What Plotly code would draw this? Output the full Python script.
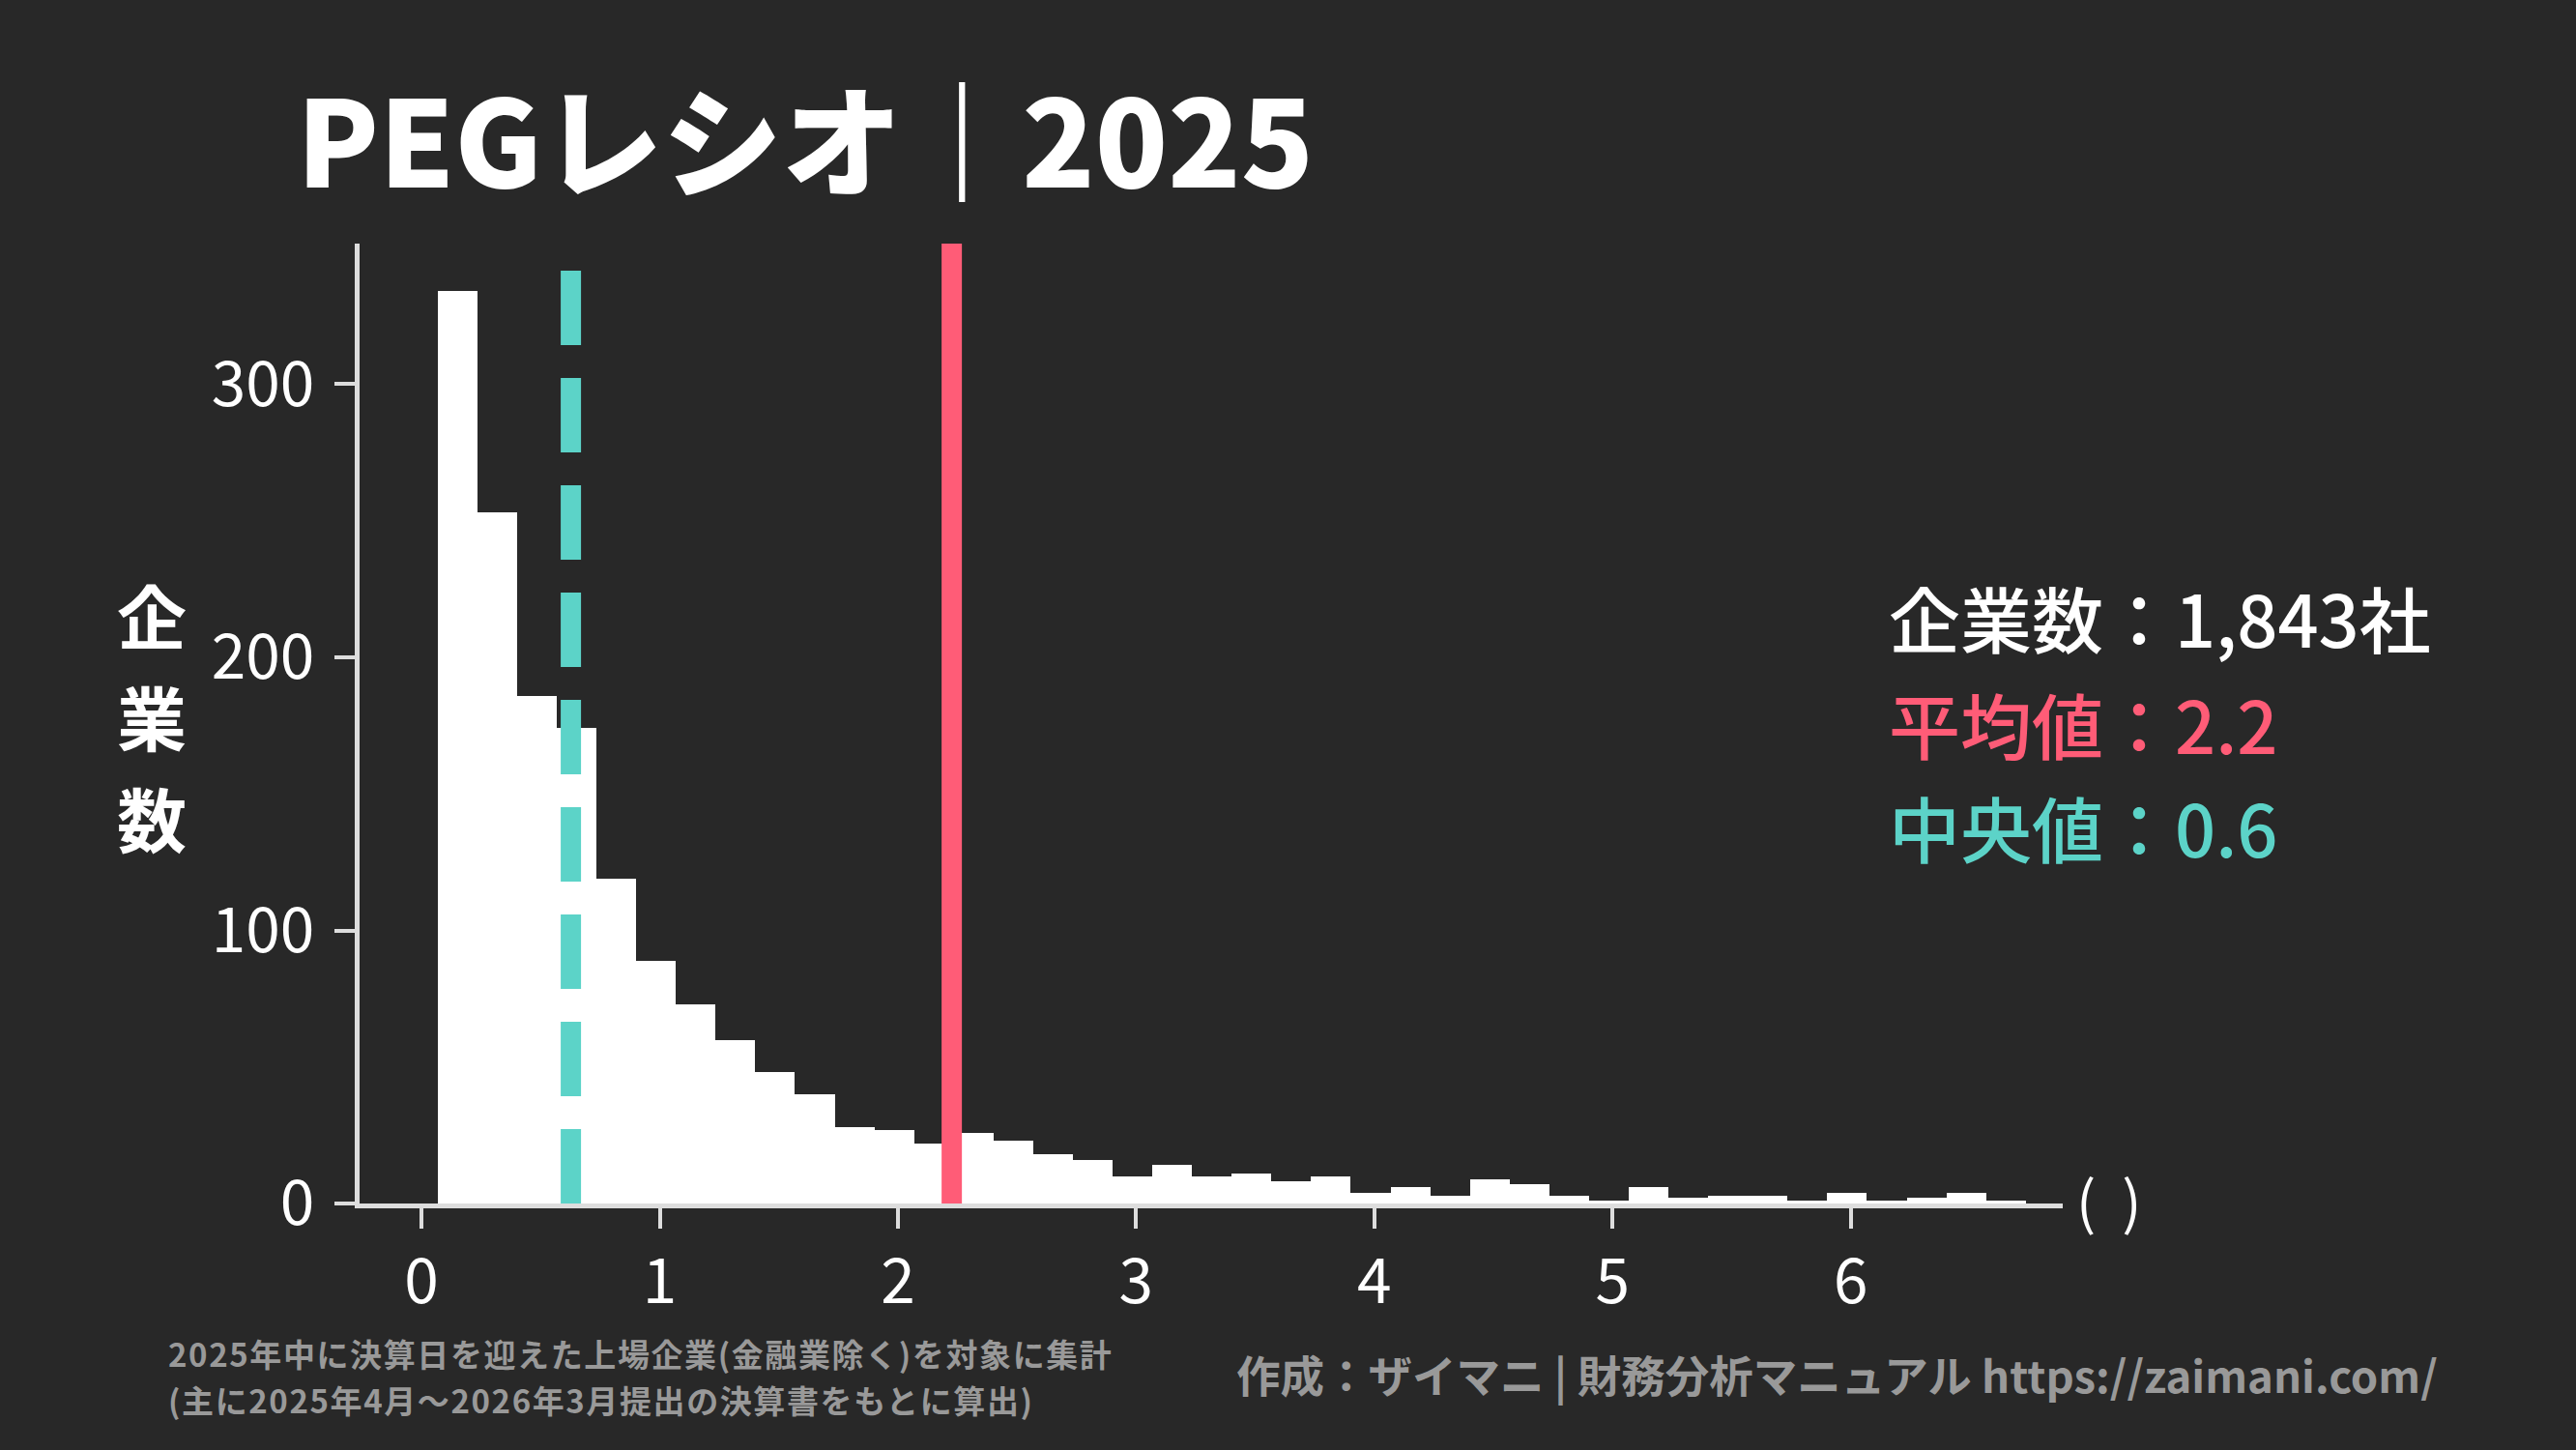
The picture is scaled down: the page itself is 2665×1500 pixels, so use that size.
"""PEGレシオの分布ヒストグラム（2025）."""
import plotly.graph_objects as go

# ── データ ─────────────────────────────────────────────
BIN_START = 0.068       # 最初のビンの左端
BIN_WIDTH = 1 / 6       # ビン幅
counts = [
    334, 253, 186, 174, 119, 89, 73, 60, 48, 40,
    28, 27, 22, 26, 23, 18, 16, 10, 14, 10,
    11, 8, 10, 4, 6, 3, 9, 7, 3, 1,
    6, 2, 3, 3, 1, 4, 1, 2, 4, 1,
]
mean_val = 2.226
median_val = 0.627
n_companies = 1843
x_ticks = [0, 1, 2, 3, 4, 5, 6]
y_ticks = [0, 100, 200, 300]

BG = '#282828'
RED = '#FF5C77'
TEAL = '#5CD3C8'
GRAY = '#999999'
FONT = 'Noto Sans CJK JP'

# ── レイアウト（px） ───────────────────────────────────
W, H = 2665, 1500
L, R, T, B = 372, 2134, 252, 1245


def px(xp):
    return (xp - L) / (R - L)


def py(yp):
    return (B - yp) / (B - T)


centers = [BIN_START + BIN_WIDTH * (i + 0.5) for i in range(len(counts))]

fig = go.Figure()
fig.add_trace(go.Bar(
    x=centers, y=counts, width=BIN_WIDTH,
    marker=dict(color='white', line=dict(width=0)),
    hoverinfo='x+y',
))

# 平均値・中央値の縦線
fig.add_shape(type='line', xref='x', yref='y domain',
              x0=mean_val, x1=mean_val, y0=0, y1=1,
              line=dict(color=RED, width=21), layer='above')
fig.add_shape(type='line', xref='x', yref='y domain',
              x0=median_val, x1=median_val, y0=0, y1=1,
              line=dict(color=TEAL, width=21, dash='77px,34px'), layer='above')

ann = []
# タイトル
ann.append(dict(text='PEGレシオ｜2025', x=px(305), y=py(140), xanchor='left', yanchor='middle',
                font=dict(size=124, color='white', family=FONT, weight=900)))
# 縦書きの軸タイトル（1文字ずつ）
for ch, yc in zip('企業数', [634, 739, 844]):
    ann.append(dict(text=ch, x=px(157), y=py(yc), xanchor='center', yanchor='middle',
                    font=dict(size=72, color='white', family=FONT, weight='bold')))
# 統計値
stats = [
    (f'企業数：{n_companies:,}社', 'white', 637),
    (f'平均値：{mean_val:.1f}', RED, 747),
    (f'中央値：{median_val:.1f}', TEAL, 855),
]
for txt, col, yc in stats:
    ann.append(dict(text=txt, x=px(1952), y=py(yc), xanchor='left', yanchor='middle',
                    font=dict(size=74, color=col, family=FONT, weight=500)))
# x軸ラベル（単位）
ann.append(dict(text='(\u00a0\u00a0)', x=px(2146), y=py(1239), xanchor='left', yanchor='middle',
                font=dict(size=60, color='white', family=FONT)))
# 注記
notes = [
    ('2025年中に決算日を迎えた上場企業(金融業除く)を対象に集計', 1400),
    ('(主に2025年4月～2026年3月提出の決算書をもとに算出)', 1448),
]
for txt, yc in notes:
    ann.append(dict(text=f'<span style="letter-spacing:1.6px">{txt}</span>',
                    x=px(172), y=py(yc), xanchor='left', yanchor='middle',
                    font=dict(size=33, color=GRAY, family=FONT, weight='bold')))
ann.append(dict(text='作成：ザイマニ | 財務分析マニュアル https://zaimani.com/',
                x=px(2524), y=py(1421), xanchor='right', yanchor='middle',
                font=dict(size=45.5, color=GRAY, family=FONT, weight='bold')))
for a in ann:
    a.update(xref='paper', yref='paper', showarrow=False)

axis_common = dict(
    showline=True, linecolor='#dddddd', linewidth=5,
    ticks='outside', ticklen=21, tickwidth=4, tickcolor='#dddddd',
    showgrid=False, zeroline=False,
    tickfont=dict(size=64, color='white', family=FONT),
)
fig.update_layout(
    width=W, height=H,
    margin=dict(l=L, r=W - R, t=T, b=H - B, pad=0),
    paper_bgcolor=BG, plot_bgcolor=BG,
    bargap=0, showlegend=False,
    xaxis=dict(range=[-0.26, 6.89], tickvals=x_ticks, **axis_common),
    yaxis=dict(range=[0, 351.5], tickvals=y_ticks, ticklabelstandoff=8, **axis_common),
    annotations=ann,
    font=dict(family=FONT, color='white'),
)

# ページ余白を消して図を左上に合わせる
fig.write_html('out.html', config={'displayModeBar': False},
               post_script="document.body.style.margin='0';"
                           "document.body.style.background='#282828';")
